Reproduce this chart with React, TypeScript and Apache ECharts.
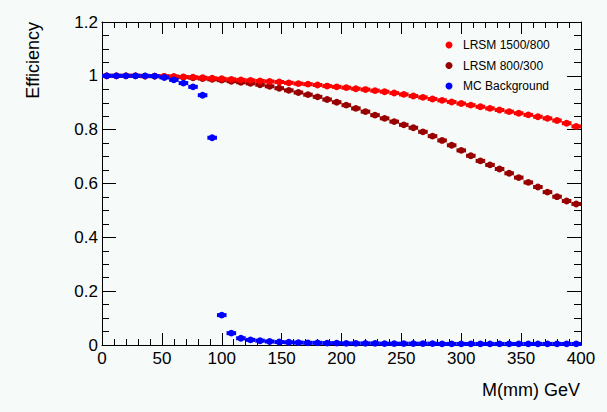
import React, { useEffect, useRef } from "react";
import * as echarts from "echarts";

const binCenters = [
  4, 12, 20, 28, 36, 44, 52, 60, 68, 76, 84, 92, 100, 108, 116, 124, 132, 140, 148, 156,
  164, 172, 180, 188, 196, 204, 212, 220, 228, 236, 244, 252, 260, 268, 276, 284, 292, 300, 308, 316,
  324, 332, 340, 348, 356, 364, 372, 380, 388, 396,
];
const binHalfWidth = 4;

const lrsm1500 = [
  1.0, 1.0, 1.0, 1.0, 0.999, 0.999, 0.998, 0.997, 0.996, 0.995, 0.993, 0.991, 0.989, 0.987, 0.985, 0.983, 0.981, 0.979, 0.977, 0.974,
  0.971, 0.969, 0.966, 0.962, 0.959, 0.956, 0.952, 0.949, 0.945, 0.941, 0.936, 0.931, 0.925, 0.92, 0.914, 0.909, 0.903, 0.897, 0.891, 0.885,
  0.879, 0.873, 0.867, 0.861, 0.855, 0.848, 0.842, 0.834, 0.824, 0.812,
];
const lrsm800 = [
  1.0, 1.0, 1.0, 1.0, 0.999, 0.999, 0.998, 0.997, 0.995, 0.993, 0.99, 0.987, 0.984, 0.98, 0.976, 0.972, 0.967, 0.961, 0.954, 0.946,
  0.938, 0.93, 0.922, 0.912, 0.902, 0.891, 0.879, 0.867, 0.854, 0.842, 0.83, 0.818, 0.807, 0.792, 0.776, 0.76, 0.742, 0.723, 0.703, 0.684,
  0.669, 0.654, 0.638, 0.622, 0.604, 0.587, 0.568, 0.551, 0.535, 0.524,
];
const mcBackground = [
  1.0, 1.0, 1.0, 1.0, 1.0, 0.999, 0.994, 0.985, 0.973, 0.959, 0.928, 0.77, 0.111, 0.044, 0.025, 0.019, 0.016, 0.013, 0.011, 0.01,
  0.009, 0.008, 0.008, 0.007, 0.007, 0.006, 0.006, 0.006, 0.006, 0.005, 0.005, 0.005, 0.005, 0.005, 0.005, 0.004, 0.004, 0.004, 0.004, 0.004,
  0.004, 0.004, 0.004, 0.004, 0.004, 0.004, 0.004, 0.004, 0.004, 0.004,
];

const seriesNames = ["LRSM 1500/800", "LRSM 800/300", "MC Background"];
const seriesColors = ["#ff0000", "#990000", "#0000ff"];
const xTitle = "M(mm) GeV";
const yTitle = "Efficiency";

const FONT = "'Liberation Sans', Arial, Helvetica, sans-serif";

function pointsSeries(name: string, values: number[], color: string) {
  return {
    type: "custom",
    name,
    xAxisIndex: 0,
    yAxisIndex: 0,
    data: binCenters.map((x, i) => [x, values[i]]),
    renderItem: (params: any, api: any) => {
      const x = api.value(0);
      const y = api.value(1);
      const c = api.coord([x, y]);
      const l = api.coord([x - binHalfWidth, y]);
      const r = api.coord([x + binHalfWidth, y]);
      return {
        type: "group",
        children: [
          {
            type: "line",
            shape: { x1: l[0], y1: l[1], x2: r[0], y2: r[1] },
            style: { stroke: color, lineWidth: 4 },
          },
          {
            type: "circle",
            shape: { cx: c[0], cy: c[1], r: 3.4 },
            style: { fill: color },
          },
        ],
      };
    },
  };
}

export default function App() {
  const ref = useRef<HTMLDivElement>(null);
  useEffect(() => {
    if (!ref.current) return;
    const chart = echarts.init(ref.current, undefined, { renderer: "svg" });
    const axisCommon = {
      axisLine: { show: true, onZero: false, lineStyle: { color: "#000", width: 1 } },
      splitLine: { show: false },
    };
    const legendItems: any[] = [];
    const legendY = [45, 65.5, 86];
    seriesNames.forEach((n, i) => {
      legendItems.push({
        type: "circle",
        shape: { cx: 449, cy: legendY[i], r: 3.5 },
        style: { fill: seriesColors[i] },
      });
      legendItems.push({
        type: "text",
        x: 463,
        y: legendY[i],
        style: {
          text: n,
          fill: "#000",
          font: `12px ${FONT}`,
          textAlign: "left",
          textVerticalAlign: "middle",
        },
      });
    });
    chart.setOption({
      animation: false,
      backgroundColor: "#f6faf8",
      grid: { left: 102, right: 26, top: 22, bottom: 67 },
      xAxis: [
        {
          type: "value",
          min: 0,
          max: 400,
          interval: 50,
          position: "bottom",
          ...axisCommon,
          axisTick: { show: true, inside: true, length: 12, lineStyle: { color: "#000" } },
          minorTick: { show: true, splitNumber: 5, length: 6, lineStyle: { color: "#000" } },
          axisLabel: { show: true, fontSize: 17, color: "#000", fontFamily: FONT, margin: 5 },
        },
        {
          type: "value",
          min: 0,
          max: 400,
          interval: 50,
          position: "top",
          ...axisCommon,
          axisTick: { show: true, inside: true, length: 12, lineStyle: { color: "#000" } },
          minorTick: { show: true, splitNumber: 5, length: 6, lineStyle: { color: "#000" } },
          axisLabel: { show: false },
        },
      ],
      yAxis: [
        {
          type: "value",
          min: 0,
          max: 1.2,
          interval: 0.2,
          position: "left",
          ...axisCommon,
          axisTick: { show: true, inside: true, length: 14, lineStyle: { color: "#000" } },
          minorTick: { show: true, splitNumber: 4, length: 7, lineStyle: { color: "#000" } },
          axisLabel: { show: true, fontSize: 17, color: "#000", fontFamily: FONT, margin: 4 },
        },
        {
          type: "value",
          min: 0,
          max: 1.2,
          interval: 0.2,
          position: "right",
          ...axisCommon,
          axisTick: { show: true, inside: true, length: 14, lineStyle: { color: "#000" } },
          minorTick: { show: true, splitNumber: 4, length: 7, lineStyle: { color: "#000" } },
          axisLabel: { show: false },
        },
      ],
      series: [
        pointsSeries(seriesNames[1], lrsm800, seriesColors[1]),
        pointsSeries(seriesNames[0], lrsm1500, seriesColors[0]),
        pointsSeries(seriesNames[2], mcBackground, seriesColors[2]),
      ],
      graphic: [
        {
          type: "text",
          x: 33,
          y: 22,
          rotation: Math.PI / 2,
          style: {
            text: yTitle,
            fill: "#000",
            font: `18px ${FONT}`,
            textAlign: "right",
            textVerticalAlign: "middle",
          },
        },
        {
          type: "text",
          x: 580,
          y: 390,
          style: {
            text: xTitle,
            fill: "#000",
            font: `18px ${FONT}`,
            textAlign: "right",
            textVerticalAlign: "middle",
          },
        },
        ...legendItems,
      ],
    });
    return () => chart.dispose();
  }, []);
  return (
    <div
      ref={ref}
      style={{ position: "fixed", left: 0, top: 0, width: 607, height: 412 }}
    />
  );
}
